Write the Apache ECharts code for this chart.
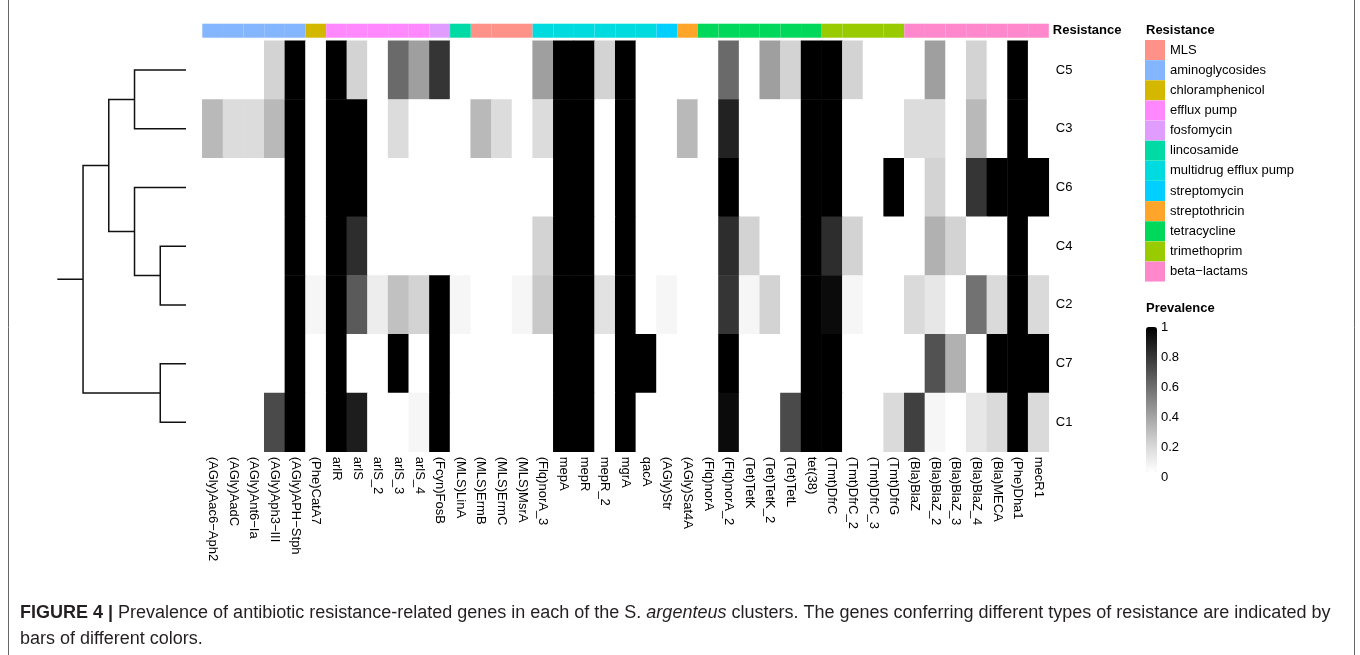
<!DOCTYPE html>
<html><head><meta charset="utf-8">
<script src="https://cdn.jsdelivr.net/npm/echarts@6/dist/echarts.min.js"></script>
<style>html,body{margin:0;padding:0;background:#fff}#c{width:1360px;height:655px}</style>
</head><body><div id="c"></div>
<script>
// ---------- data ----------
const genes = ['(AGly)Aac6−Aph2','(AGly)AadC','(AGly)Ant6−Ia','(AGly)Aph3−III','(AGly)APH−Stph','(Phe)CatA7','arlR','arlS','arlS_2','arlS_3','arlS_4','(Fcyn)FosB','(MLS)LinA','(MLS)ErmB','(MLS)ErmC','(MLS)MsrA','(Flq)norA_3','mepA','mepR','mepR_2','mgrA','qacA','(AGly)Str','(AGly)Sat4A','(Flq)norA','(Flq)norA_2','(Tet)TetK','(Tet)TetK_2','(Tet)TetL','tet(38)','(Tmt)DfrC','(Tmt)DfrC_2','(Tmt)DfrC_3','(Tmt)DfrG','(Bla)BlaZ','(Bla)BlaZ_2','(Bla)BlaZ_3','(Bla)BlaZ_4','(Bla)MECA','(Phe)Dha1','mecR1'];
const geneClass = ['aminoglycosides','aminoglycosides','aminoglycosides','aminoglycosides','aminoglycosides','chloramphenicol','efflux pump','efflux pump','efflux pump','efflux pump','efflux pump','fosfomycin','lincosamide','MLS','MLS','MLS','multidrug efflux pump','multidrug efflux pump','multidrug efflux pump','multidrug efflux pump','multidrug efflux pump','multidrug efflux pump','streptomycin','streptothricin','tetracycline','tetracycline','tetracycline','tetracycline','tetracycline','tetracycline','trimethoprim','trimethoprim','trimethoprim','trimethoprim','beta−lactams','beta−lactams','beta−lactams','beta−lactams','beta−lactams','beta−lactams','beta−lactams'];
const classes = ['MLS','aminoglycosides','chloramphenicol','efflux pump','fosfomycin','lincosamide','multidrug efflux pump','streptomycin','streptothricin','tetracycline','trimethoprim','beta−lactams'];
const classColors = ['#ff9288','#84b5ff','#d4b800','#ff88ff','#e09cff','#00dba6','#00dbe0','#00cfff','#ffa52a','#00d85c','#99cc00','#ff88cc'];
const clusters = ['C5','C3','C6','C4','C2','C7','C1'];
const prevC5 = [0,0,0,0.2,1,0,1,0.2,0,0.6,0.4,0.8,0,0,0,0,0.4,1,1,0.2,1,0,0,0,0,0.6,0,0.4,0.2,1,1,0.2,0,0,0,0.4,0,0.2,0,1,0];
const prevC3 = [0.3,0.16,0.16,0.3,1,0,1,1,0,0.16,0,0,0,0.3,0.16,0,0.16,1,1,0,1,0,0,0.3,0,0.87,0,0,0,1,1,0,0,0,0.16,0.16,0,0.3,0,1,0];
const prevC6 = [0,0,0,0,1,0,1,1,0,0,0,0,0,0,0,0,0,1,1,0,1,0,0,0,0,1,0,0,0,1,1,0,0,1,0,0.2,0,0.8,1,1,1];
const prevC4 = [0,0,0,0,1,0,1,0.83,0,0,0,0,0,0,0,0,0.2,1,1,0,1,0,0,0,0,0.83,0.2,0,0,1,0.83,0.2,0,0,0,0.33,0.2,0,0,1,0];
const prevC2 = [0,0,0,0,1,0.04,1,0.66,0.08,0.27,0.2,1,0.04,0,0,0.04,0.24,1,1,0.13,1,0,0.04,0,0,0.8,0.04,0.2,0,1,0.96,0.04,0,0,0.17,0.11,0,0.57,0.17,1,0.17];
const prevC7 = [0,0,0,0,1,0,1,0,0,1,0,1,0,0,0,0,0,1,1,0,1,1,0,0,0,1,0,0,0,1,1,0,0,0,0,0.69,0.33,0,1,1,1];
const prevC1 = [0,0,0,0.72,1,0,1,0.89,0,0,0.04,1,0,0,0,0,0,1,1,0,1,0,0,0,0,0.96,0,0,0.72,1,1,0,0,0.17,0.76,0.04,0,0.11,0.17,1,0.17];
// dendrogram merges: [childA, childB, height]; children are cluster names or merge ids
const dendroMerges = [['C4','C2',1],['C7','C1',1],['C5','C3',2],['C6','m1',2],['m3','m4',3],['m5','m2',4]];
const dendroRootTop = 5;
const prevTicks = [0,0.2,0.4,0.6,0.8,1];

// ---------- build ----------
const prevRows = [prevC5,prevC3,prevC6,prevC4,prevC2,prevC7,prevC1];
const heat = [];
prevRows.forEach((row,ri)=>row.forEach((v,ci)=>heat.push([ci,ri,v])));

const nodes = {};
clusters.forEach((c,i)=>nodes[c]={h:0,y:i});
const dendroData = [];
dendroMerges.forEach((m,i)=>{
  const a=nodes[m[0]], b=nodes[m[1]];
  nodes['m'+(i+1)] = {h:m[2], y:(a.y+b.y)/2};
  dendroData.push([a.h,a.y,m[2],b.y,b.h]);
});
const root = nodes['m'+dendroMerges.length];
dendroData.push([root.h,root.y,dendroRootTop,root.y,dendroRootTop]);

const FONT = "'Liberation Sans', Arial, sans-serif";
const GL = 202.3, GW = 846.5, GT = 40.7, GH = 411;
const CAP = 18;

const barSeries = classes.map((cls,k)=>({
  type:'bar', name:cls, xAxisIndex:1, yAxisIndex:1,
  data: genes.map((g,i)=> geneClass[i]===cls ? 1 : '-'),
  barWidth:'100%', barGap:'-100%', barCategoryGap:'0%',
  itemStyle:{color:classColors[k]}, silent:true
}));

const option = {
  animation:false,
  backgroundColor:'#fff',
  textStyle:{fontFamily:FONT},
  title:[
    {text:'Resistance', left:1146, top:24, padding:0, textStyle:{fontSize:13, fontWeight:'bold', color:'#000', fontFamily:FONT}},
    {text:'Prevalence', left:1146, top:302, padding:0, textStyle:{fontSize:13, fontWeight:'bold', color:'#000', fontFamily:FONT}},
    {text:'{b|FIGURE 4 |} {n|Prevalence of antibiotic resistance-related genes in each of the S. }{i|argenteus}{n| clusters. The genes conferring different types of resistance are indicated by}\n{n|bars of different colors.}',
     left:20, top:600, padding:0,
     textStyle:{fontSize:CAP, fontWeight:'normal', lineHeight:26, color:'#231f20', fontFamily:FONT,
       rich:{b:{fontWeight:'bold', fontSize:CAP, lineHeight:26, color:'#231f20', fontFamily:FONT},
             n:{fontWeight:'normal', fontSize:CAP, lineHeight:26, color:'#231f20', fontFamily:FONT},
             i:{fontWeight:'normal', fontStyle:'italic', fontSize:CAP, lineHeight:26, color:'#231f20', fontFamily:FONT}}}}
  ],
  legend:{
    data:classes, orient:'vertical', left:1145, top:40, padding:0,
    itemWidth:20, itemHeight:20, itemGap:0.14, icon:'rect', selectedMode:false,
    textStyle:{fontSize:13, color:'#000', fontFamily:FONT}
  },
  grid:[
    {left:GL, top:GT, width:GW, height:GH},
    {left:GL, top:23.7, width:GW, height:14},
    {left:57.3, top:GT, width:128.7, height:GH},
    {left:1146, top:327.7, width:11, height:149.6}
  ],
  xAxis:[
    {type:'category', gridIndex:0, data:genes, position:'bottom',
     axisLine:{show:false}, axisTick:{show:false}, splitLine:{show:false},
     axisLabel:{rotate:-90, interval:0, margin:5, fontSize:13, color:'#000', fontFamily:FONT}},
    {type:'category', gridIndex:1, data:genes, show:false},
    {type:'value', gridIndex:2, min:0, max:dendroRootTop, inverse:true, show:false},
    {type:'value', gridIndex:3, min:0, max:1, show:false}
  ],
  yAxis:[
    {type:'category', gridIndex:0, data:clusters, inverse:true, position:'right',
     axisLine:{show:false}, axisTick:{show:false}, splitLine:{show:false},
     axisLabel:{margin:7, fontSize:13, color:'#000', fontFamily:FONT}},
    {type:'value', gridIndex:1, min:0, max:1, show:false},
    {type:'category', gridIndex:1, data:['Resistance'], position:'right',
     axisLine:{show:false}, axisTick:{show:false}, splitLine:{show:false},
     axisLabel:{margin:4, fontSize:13, fontWeight:'bold', color:'#000', fontFamily:FONT}},
    {type:'value', gridIndex:2, min:-0.5, max:clusters.length-0.5, inverse:true, show:false},
    {type:'value', gridIndex:3, min:prevTicks[0], max:prevTicks[prevTicks.length-1], interval:0.2, position:'right',
     axisLine:{show:false}, axisTick:{show:false}, splitLine:{show:false},
     axisLabel:{margin:4, fontSize:13, color:'#000', fontFamily:FONT}}
  ],
  visualMap:{
    type:'continuous', seriesIndex:0, dimension:2, min:0, max:1,
    inRange:{color:['#ffffff','#d3d3d3','#9f9f9f','#6a6a6a','#353535','#000000']},
    left:1146, top:327, itemWidth:11, itemHeight:145, padding:0,
    calculable:false, text:null, showLabel:false, hoverLink:false
  },
  series:[
    {type:'heatmap', xAxisIndex:0, yAxisIndex:0, data:heat, silent:true, emphasis:{disabled:true}},
    ...barSeries,
    {type:'custom', xAxisIndex:2, yAxisIndex:3, data:dendroData, silent:true,
     encode:{x:[0,2,4], y:[1,3]},
     renderItem:(params, api)=>{
       const p1 = api.coord([api.value(0), api.value(1)]);
       const p2 = api.coord([api.value(2), api.value(1)]);
       const p3 = api.coord([api.value(2), api.value(3)]);
       const p4 = api.coord([api.value(4), api.value(3)]);
       return {type:'polyline', shape:{points:[p1,p2,p3,p4]}, style:{stroke:'#111', lineWidth:1.5, fill:null}};
     }},
    {type:'scatter', xAxisIndex:3, yAxisIndex:4, data:[], silent:true}
  ],
  graphic:[
    {type:'rect', shape:{x:8.5, y:-5, width:1346, height:680}, style:{fill:null, stroke:'#666', lineWidth:1}, silent:true}
  ]
};
const chart = echarts.init(document.getElementById('c'), null, {renderer:'canvas'});
chart.setOption(option);
</script></body></html>
